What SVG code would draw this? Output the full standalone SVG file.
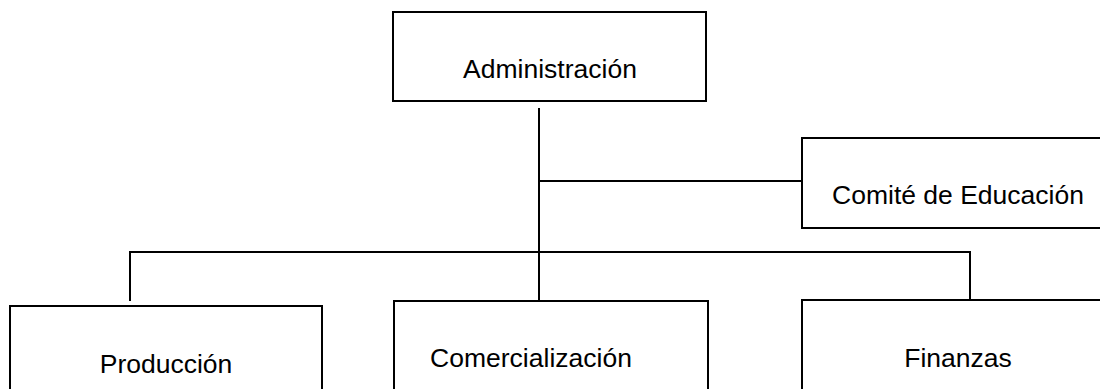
<svg xmlns="http://www.w3.org/2000/svg" width="1100" height="389" viewBox="0 0 1100 389">
<style>
.box{fill:#fff;stroke:#000;stroke-width:2}
.lbl{font-family:"Liberation Sans",Arial,sans-serif;font-size:26.5px;fill:#000;text-anchor:middle}
.conn line{stroke:#000;stroke-width:2}
</style>
<rect width="1100" height="389" fill="#fff"/>
<g id="connectors" class="conn">
<line x1="539" y1="108" x2="539" y2="300"/>
<line x1="539" y1="181" x2="802" y2="181"/>
<line x1="129" y1="252" x2="971" y2="252"/>
<line x1="130" y1="252" x2="130" y2="301"/>
<line x1="970" y1="252" x2="970" y2="300"/>
</g>
<g id="administracion">
<rect class="box" x="393" y="12" width="313" height="89"/>
<text class="lbl" x="550" y="78">Administración</text>
</g>
<g id="comite">
<rect class="box" x="802" y="138" width="320" height="90"/>
<text class="lbl" x="958" y="204">Comité de Educación</text>
</g>
<g id="produccion">
<rect class="box" x="10" y="306" width="312" height="120"/>
<text class="lbl" x="166" y="373">Producción</text>
</g>
<g id="comercializacion">
<rect class="box" x="394" y="301" width="314" height="120"/>
<text class="lbl" x="531" y="367">Comercialización</text>
</g>
<g id="finanzas">
<rect class="box" x="802" y="300" width="320" height="120"/>
<text class="lbl" x="958" y="367">Finanzas</text>
</g>
</svg>
